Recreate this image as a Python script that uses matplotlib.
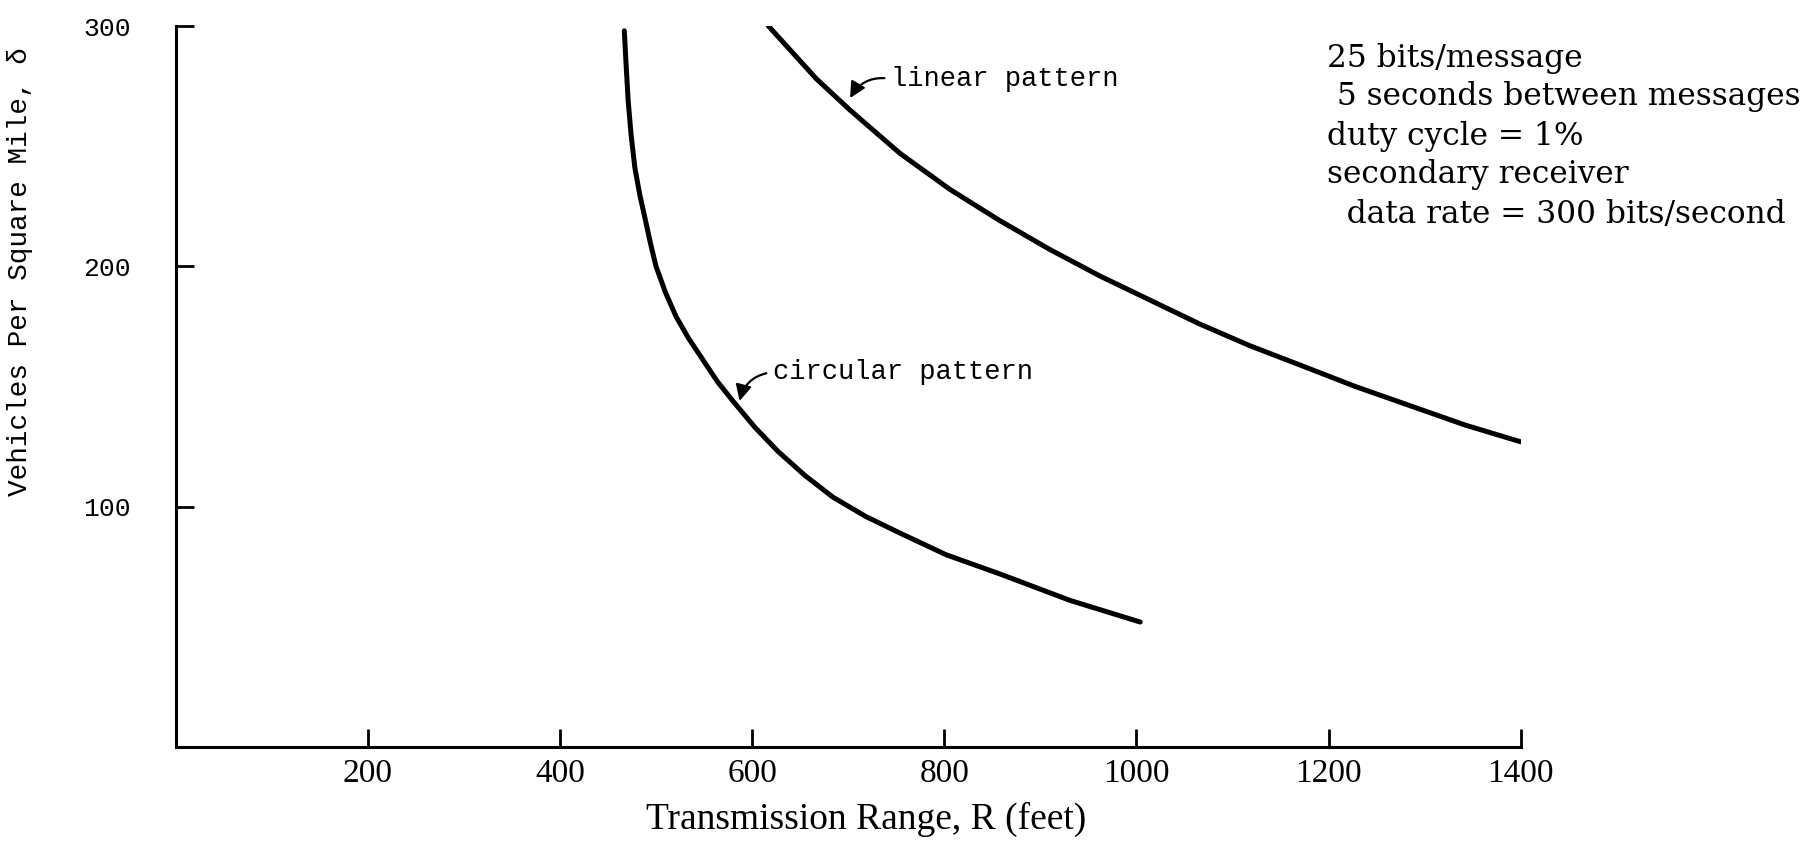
import matplotlib
matplotlib.use('Agg')
import matplotlib.pyplot as plt

# values
circ_r = [467, 469, 471, 474, 478, 483, 488, 494, 500, 510, 521, 534, 549, 564, 580,
          603, 627, 655, 684, 718, 754, 802, 858, 931, 1004]
circ_d = [298, 283, 269, 255, 241, 230, 221, 210, 200, 189, 179, 170, 161, 152, 144,
          133, 123, 113, 104, 96, 89, 80, 72, 61, 52]

lin_r = [617, 667, 702, 754, 806, 858, 910, 962, 1014, 1066, 1118, 1170, 1228, 1285, 1342, 1400]
lin_d = [300, 278, 265, 247, 232, 219, 207, 196, 186, 176, 167, 159, 150, 142, 134, 127]

x_ticks = [200, 400, 600, 800, 1000, 1200, 1400]
y_ticks = [100, 200, 300]

notes = ['25 bits/message',
         ' 5 seconds between messages',
         'duty cycle = 1%',
         'secondary receiver',
         '  data rate = 300 bits/second']

fig = plt.figure(figsize=(18.09, 8.42), dpi=100)
ax = fig.add_axes([0.0971, 0.1128, 0.7435, 0.8563])

ax.plot(circ_r, circ_d, color='black', lw=3.6, solid_capstyle='round')
ax.plot(lin_r, lin_d, color='black', lw=3.6, solid_capstyle='round')

ax.set_xlim(0, 1400)
ax.set_ylim(0, 300)
for s in ['top', 'right']:
    ax.spines[s].set_visible(False)
for s in ['left', 'bottom']:
    ax.spines[s].set_linewidth(2.2)

ax.set_xticks(x_ticks)
ax.set_yticks(y_ticks)
ax.tick_params(axis='both', direction='in', length=13, width=2)
ax.tick_params(axis='x', pad=8)
ax.tick_params(axis='y', pad=32)
for lab in ax.get_xticklabels():
    lab.set_fontfamily('Liberation Serif')
    lab.set_fontsize(24)
for lab in ax.get_yticklabels():
    lab.set_fontfamily('Liberation Mono')
    lab.set_fontsize(19)

ax.set_xlabel('Transmission Range, R (feet)', fontfamily='Liberation Serif', fontsize=27)
ax.xaxis.label.set_va('center')
ax.xaxis.set_label_coords(0.513, -0.1)
ax.set_ylabel('Vehicles Per Square Mile, δ', fontfamily='Liberation Mono', fontsize=20)
ax.yaxis.set_label_coords(-0.106, 0.66)

arrow = dict(arrowstyle='-|>', color='black', lw=1.6, mutation_scale=24,
             connectionstyle='arc3,rad=0.35', relpos=(0, 0.5), shrinkA=3, shrinkB=0)
ax.annotate('linear pattern', xy=(702, 270), xytext=(745, 278),
            fontfamily='Liberation Mono', fontsize=19.5, va='center', ha='left',
            arrowprops=arrow)
ax.annotate('circular pattern', xy=(587, 144), xytext=(622, 156),
            fontfamily='Liberation Mono', fontsize=19.5, va='center', ha='left',
            arrowprops=arrow)

for i, line in enumerate(notes):
    fig.text(1327 / 1809, 1 - (58 + i * 39) / 842, line, fontfamily='DejaVu Serif',
             fontsize=22.5, va='center', ha='left')

fig.savefig('out.png', dpi=100)
